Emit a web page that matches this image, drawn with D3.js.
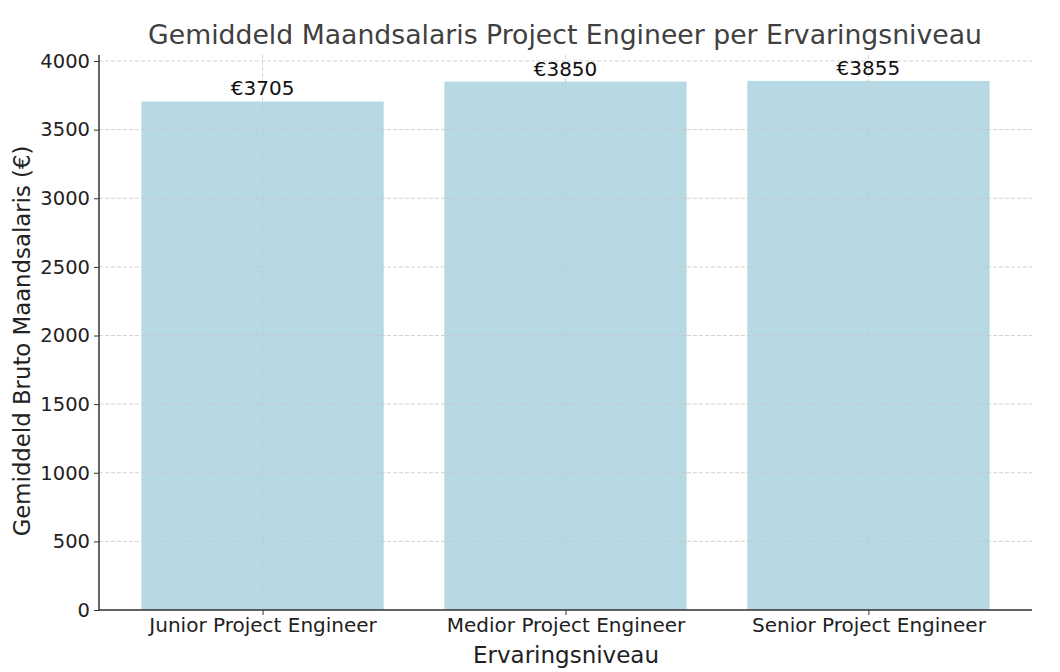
<!DOCTYPE html>
<html><head><meta charset="utf-8">
<script src="https://cdn.jsdelivr.net/npm/d3@7"></script>
<style>body{margin:0;background:#fff}svg{display:block}text{font-family:"DejaVu Sans",sans-serif}</style>
</head><body>
<svg id="c" width="1060" height="672"></svg>
<script>
const categories = ["Junior Project Engineer","Medior Project Engineer","Senior Project Engineer"];
const values = [3705, 3850, 3855];
const yTicks = [0,500,1000,1500,2000,2500,3000,3500,4000];

const svg = d3.select("#c");
const m = {l:99, r:1032, t:61, b:610};
const x = d3.scaleLinear().domain([-0.54, 2.54]).range([m.l, m.r]);
const y = d3.scaleLinear().domain([0, 4000]).range([m.b, m.t]);
const bw = x(0.4) - x(-0.4);

svg.selectAll("rect.bar").data(values).join("rect")
  .attr("x",(d,i)=>x(i)-bw/2).attr("width",bw)
  .attr("y",d=>y(d)).attr("height",d=>y(0)-y(d))
  .attr("fill","#b7d9e4");

// grid
const g = svg.append("g");
g.selectAll("line.hy").data(yTicks).join("line")
  .attr("x1",m.l).attr("x2",m.r).attr("y1",d=>y(d)).attr("y2",d=>y(d))
  .attr("stroke","#c8c8c8").attr("stroke-dasharray","4,2").attr("stroke-width",0.8);
g.selectAll("line.vx").data(categories).join("line")
  .attr("x1",(d,i)=>x(i)).attr("x2",(d,i)=>x(i)).attr("y1",m.t-6).attr("y2",m.b)
  .attr("stroke","#c8c8c8").attr("stroke-dasharray","4,2").attr("stroke-width",0.8);

// axes
const ya = svg.append("g").attr("transform",`translate(${m.l},0)`)
  .call(d3.axisLeft(y).tickValues(yTicks).tickSize(5).tickPadding(4).tickFormat(d3.format("d")));
ya.select(".domain").attr("d",`M0,${m.t-6}V${m.b}`).attr("stroke","#333").attr("stroke-width",1.5);
ya.selectAll(".tick line").attr("stroke","#333");
ya.selectAll(".tick text").attr("font-size",19.5).attr("fill","#222").attr("font-family","DejaVu Sans");

const xa = svg.append("g").attr("transform",`translate(0,${m.b})`)
  .call(d3.axisBottom(x).tickValues([0,1,2]).tickSize(5).tickPadding(3).tickFormat(i=>categories[i]));
xa.select(".domain").attr("d",`M${m.l},0H${m.r}`).attr("stroke","#333").attr("stroke-width",1.5);
xa.selectAll(".tick line").attr("stroke","#333");
xa.selectAll(".tick text").attr("font-size",20).attr("fill","#222").attr("font-family","DejaVu Sans");

// value labels
svg.selectAll("text.val").data(values).join("text")
  .attr("x",(d,i)=>x(i)).attr("y",d=>y(d)-6).attr("text-anchor","middle")
  .attr("font-size",20).attr("fill","#111").text(d=>"€"+d);

// titles
svg.append("text").attr("x",565).attr("y",44).attr("text-anchor","middle")
  .attr("font-size",26.7).attr("fill","#404040").text("Gemiddeld Maandsalaris Project Engineer per Ervaringsniveau");
svg.append("text").attr("x",566).attr("y",663).attr("text-anchor","middle")
  .attr("font-size",23).attr("fill","#222").text("Ervaringsniveau");
svg.append("text").attr("transform","translate(30,341) rotate(-90)").attr("text-anchor","middle")
  .attr("font-size",22.8).attr("fill","#222").text("Gemiddeld Bruto Maandsalaris (€)");
</script>
</body></html>
